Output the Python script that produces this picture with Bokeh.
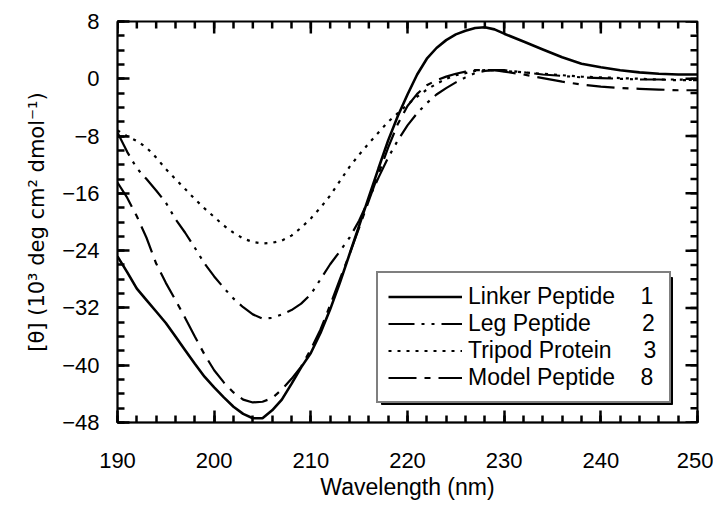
import math
from bokeh.plotting import figure
from bokeh.models import FixedTicker, Range1d, Legend, LegendItem, BoxAnnotation
from bokeh.embed import file_html
from bokeh.resources import INLINE

# ---------------- data ----------------
wavelength = [190, 191, 192, 193, 194, 195, 196, 197, 198, 199,
              200, 201, 202, 203, 204, 205, 206, 207, 208, 209,
              210, 211, 212, 213, 214, 215, 216, 217, 218, 219,
              220, 221, 222, 223, 224, 225, 226, 227, 228, 229,
              230, 232, 234, 236, 238, 240, 242, 244, 246, 248, 250]

linker_peptide_1 = [-24.8, -27.0, -29.3, -30.9, -32.5, -34.1, -36.0, -37.9, -39.8, -41.6,
                    -43.1, -44.5, -45.8, -46.8, -47.4, -47.4, -46.3, -44.8, -42.6, -40.3,
                    -38.3, -35.5, -32.2, -28.5, -24.5, -20.5, -16.5, -12.5, -8.6, -5.2,
                    -2.2, 0.6, 2.8, 4.3, 5.4, 6.2, 6.7, 7.1, 7.2, 6.9,
                    6.3, 5.2, 4.1, 3.0, 2.1, 1.6, 1.2, 0.9, 0.7, 0.6, 0.6]

leg_peptide_2 = [-7.5, -10.2, -12.5, -14.0, -15.6, -17.3, -19.6, -21.5, -23.6, -25.8,
                 -27.6, -29.2, -30.7, -31.9, -32.9, -33.5, -33.4, -32.9, -32.3, -31.4,
                 -30.1, -28.0, -25.9, -24.1, -22.2, -19.8, -16.8, -13.8, -11.0, -8.6,
                 -6.5, -4.8, -3.4, -2.2, -1.3, -0.5, 0.2, 0.8, 1.1, 1.2,
                 1.2, 0.9, 0.6, 0.4, 0.2, 0.1, 0.0, -0.1, -0.1, -0.2, -0.2]

tripod_protein_3 = [-7.2, -8.0, -8.7, -9.6, -11.0, -12.6, -14.0, -15.4, -16.8, -18.1,
                    -19.3, -20.5, -21.5, -22.3, -22.8, -23.0, -22.9, -22.6, -21.9, -20.8,
                    -19.5, -18.0, -16.3, -14.3, -12.3, -10.6, -9.0, -7.5, -6.0, -4.8,
                    -3.6, -2.5, -1.5, -0.7, 0.0, 0.5, 0.8, 1.1, 1.2, 1.2,
                    1.1, 0.9, 0.7, 0.5, 0.3, 0.2, 0.1, 0.0, -0.1, -0.1, -0.2]

model_peptide_8 = [-14.5, -16.6, -19.2, -22.2, -25.8, -28.5, -30.9, -33.4, -36.0, -38.5,
                   -40.7, -42.4, -43.8, -44.8, -45.2, -45.1, -44.6, -43.4, -41.9, -40.2,
                   -37.8, -35.0, -31.6, -28.0, -24.5, -20.8, -17.0, -13.3, -9.6, -6.3,
                   -3.8, -2.1, -0.9, -0.2, 0.3, 0.7, 1.0, 1.2, 1.2, 1.2,
                   1.0, 0.6, 0.1, -0.4, -0.8, -1.1, -1.3, -1.4, -1.5, -1.6, -1.6]

series_names = ["Linker Peptide", "Leg Peptide", "Tripod Protein", "Model Peptide"]
series_numbers = ["1", "2", "3", "8"]
name_pad = [4, 8, 5, 4]  # non-breaking spaces between name and number

x_major = [190, 200, 210, 220, 230, 240, 250]
x_minor = list(range(190, 251, 2))
y_major = [-48, -40, -32, -24, -16, -8, 0, 8]
y_minor = list(range(-48, 9, 2))

# ---------------- figure ----------------
FONT = "Liberation Sans"
FRAME_W, FRAME_H = 580, 401
X0, X1, Y0, Y1 = 190, 250, -48, 8

p = figure(frame_width=FRAME_W, frame_height=FRAME_H,
           x_range=Range1d(X0, X1), y_range=Range1d(Y0, Y1),
           output_backend="svg", toolbar_location=None,
           min_border_left=117, min_border_top=21, min_border_right=16,
           min_border_bottom=40,
           x_axis_label="Wavelength (nm)",
           y_axis_label="[\u03b8] (10\u00b3 deg cm\u00b2 dmol\u207b\u00b9)")
p.outline_line_color = "black"
p.outline_line_width = 2
p.xgrid.visible = False
p.ygrid.visible = False

bottom_axis = p.below[0]
left_axis = p.left[0]
bottom_axis.ticker = FixedTicker(ticks=x_major, minor_ticks=x_minor)
left_axis.ticker = FixedTicker(ticks=y_major, minor_ticks=y_minor)

for ax in [bottom_axis, left_axis]:
    ax.axis_line_color = "black"
    ax.axis_line_width = 1.5
    ax.major_tick_in = 12
    ax.major_tick_out = 0
    ax.minor_tick_in = 7
    ax.minor_tick_out = 0
    ax.major_tick_line_color = "black"
    ax.major_tick_line_width = 2.5
    ax.minor_tick_line_color = "black"
    ax.minor_tick_line_width = 2.5
    ax.major_label_text_font = FONT
    ax.major_label_text_color = "black"
    ax.major_label_text_font_size = "22px"
    ax.axis_label_text_font = FONT
    ax.axis_label_text_font_style = "normal"
    ax.axis_label_text_color = "black"

bottom_axis.major_label_standoff = 30
bottom_axis.major_label_text_line_height = 1.0
bottom_axis.axis_label_text_font_size = "23px"
bottom_axis.axis_label_text_line_height = 1.0
bottom_axis.axis_label_standoff = 3

left_axis.major_label_standoff = 18
left_axis.axis_label_text_font = "DejaVu Sans"
left_axis.axis_label_text_font_size = "21px"
left_axis.axis_label_standoff = 10

# ---------------- inward tick marks on the top and right sides ----------------
MAJOR_LEN, MINOR_LEN = 12, 7
for ticks, length in [(x_major, MAJOR_LEN), (x_minor, MINOR_LEN)]:
    p.ray(x=ticks, y=[Y1] * len(ticks), length=length, length_units="screen",
          angle=-math.pi / 2, line_color="black", line_width=2.5)
for ticks, length in [(y_major, MAJOR_LEN), (y_minor, MINOR_LEN)]:
    p.ray(x=[X1] * len(ticks), y=ticks, length=length, length_units="screen",
          angle=math.pi, line_color="black", line_width=2.5)

# ---------------- curves ----------------
styles = [
    dict(line_width=2.6, line_dash="solid"),
    dict(line_width=2.2, line_dash="26 7 3 7 3 7"),
    dict(line_width=2.2, line_dash="3 6"),
    dict(line_width=2.2, line_dash="28 8 6 8"),
]
values = [linker_peptide_1, leg_peptide_2, tripod_protein_3, model_peptide_8]
renderers = []
for vals, st in zip(values, styles):
    r = p.line(wavelength, vals, line_color="black", **st)
    renderers.append(r)

# ---------------- legend with drop shadow ----------------
LEG_X, LEG_BOTTOM = 259, 23     # px from frame bottom-left (drawn box)
LEG_Y = LEG_BOTTOM - 4          # Bokeh places the box ~4px above the anchor
LEG_W, LEG_H = 291, 127         # legend box size
SHADOW = 5
sx = FRAME_W / (X1 - X0)
sy = FRAME_H / (Y1 - Y0)
shadow = BoxAnnotation(left=X0 + (LEG_X + SHADOW) / sx,
                       right=X0 + (LEG_X + LEG_W + SHADOW) / sx,
                       bottom=Y0 + (LEG_BOTTOM - SHADOW) / sy,
                       top=Y0 + (LEG_BOTTOM + LEG_H - SHADOW) / sy,
                       fill_color="black", fill_alpha=1.0, line_color="black",
                       line_alpha=1.0)
p.add_layout(shadow)

items = []
for name, num, pad, r in zip(series_names, series_numbers, name_pad, renderers):
    items.append(LegendItem(label=name + "\u00a0" * pad + num, renderers=[r]))

legend = Legend(items=items, location=(LEG_X, LEG_Y), margin=0, padding=10,
                spacing=0, glyph_width=74, glyph_height=25, label_height=25,
                label_width=191, label_standoff=6,
                label_text_font=FONT, label_text_font_size="23px",
                label_text_line_height=1.0,
                label_text_color="black",
                border_line_color="black", border_line_width=2,
                background_fill_color="white", background_fill_alpha=1.0)
p.add_layout(legend, "center")

open("out.html", "w").write(file_html(p, INLINE))
